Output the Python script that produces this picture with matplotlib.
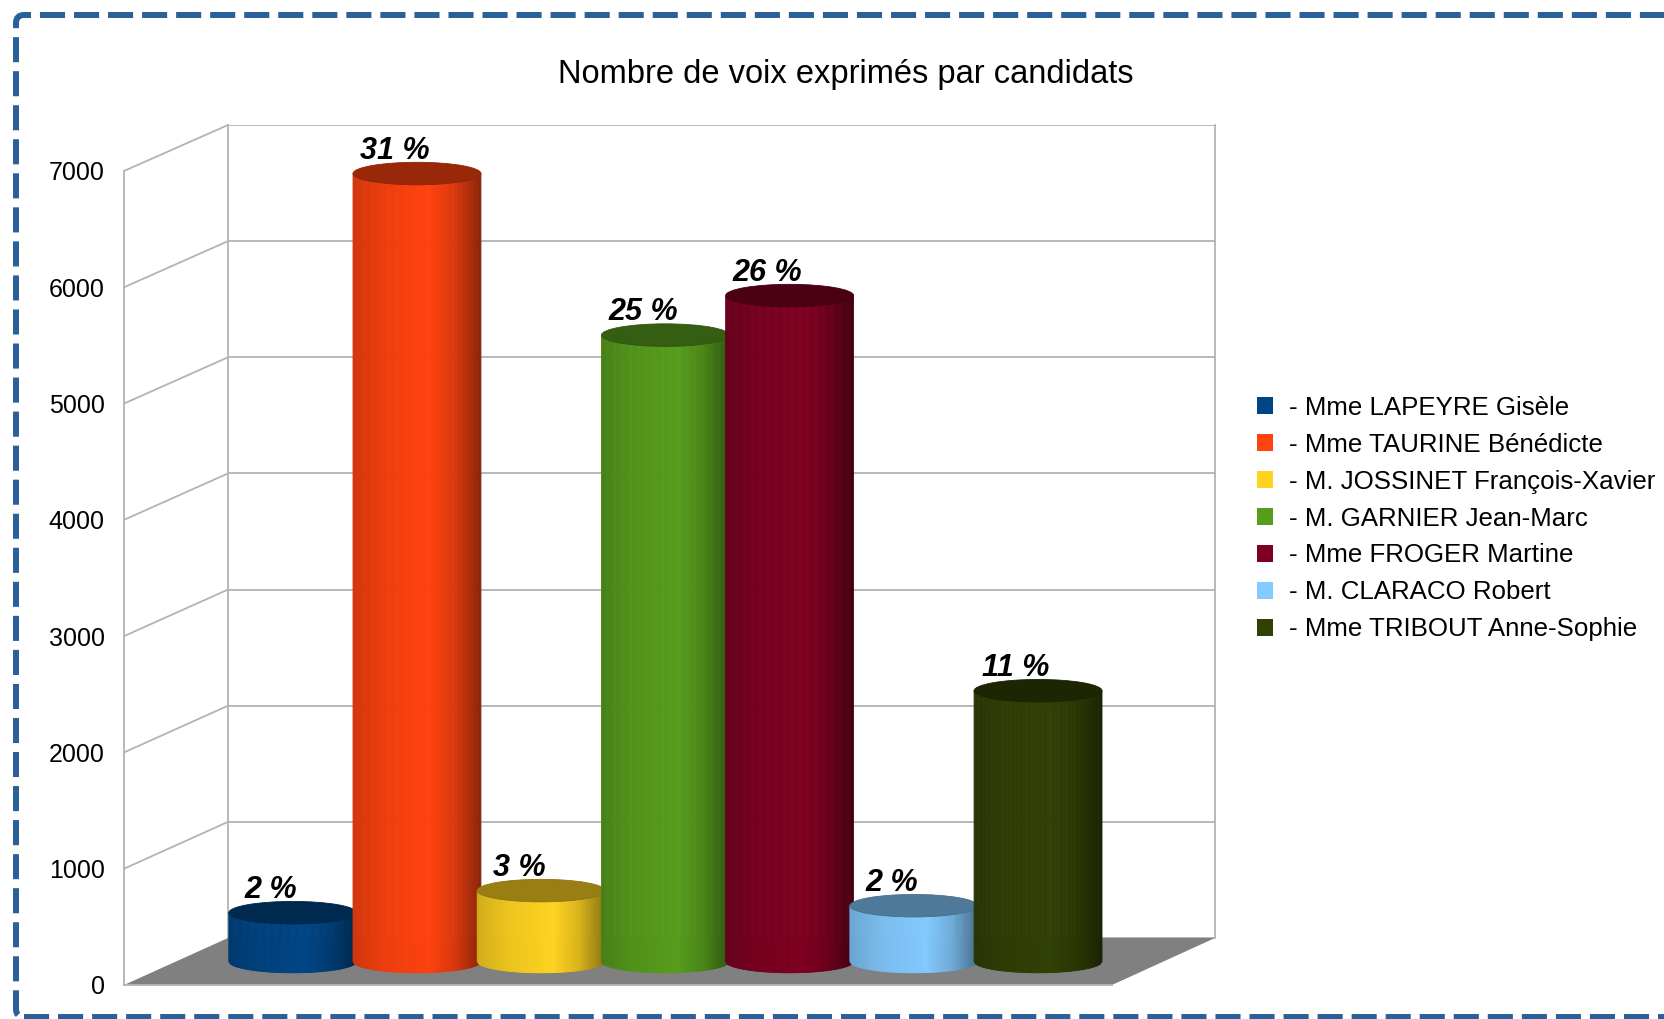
import numpy as np
import matplotlib
matplotlib.use("Agg")
import matplotlib.pyplot as plt
from matplotlib.patches import Ellipse, Polygon, FancyBboxPatch, Patch, ConnectionPatch
from matplotlib.collections import PolyCollection
from matplotlib.colors import to_rgb
from matplotlib.transforms import IdentityTransform

# données
candidats = ["- Mme LAPEYRE Gisèle", "- Mme TAURINE Bénédicte",
             "- M. JOSSINET François-Xavier", "- M. GARNIER Jean-Marc",
             "- Mme FROGER Martine", "- M. CLARACO Robert",
             "- Mme TRIBOUT Anne-Sophie"]
voix = [420, 6780, 610, 5390, 5730, 480, 2330]
pourcentages = ["2 %", "31 %", "3 %", "25 %", "26 %", "2 %", "11 %"]
couleurs = ["#004586", "#ff420e", "#ffd320", "#579d1c", "#7e0021", "#83caff", "#314004"]
graduations = [0, 1000, 2000, 3000, 4000, 5000, 6000, 7000]
titre = "Nombre de voix exprimés par candidats"

plt.rcParams['font.family'] = ['Liberation Sans', 'DejaVu Sans']

W, H = 1665, 1019
fig = plt.figure(figsize=(W / 100, H / 100), dpi=100)


def px_box(left, top, right, bottom):
    return [left / W, 1 - bottom / H, (right - left) / W, (bottom - top) / H]


xlim = (-0.94, 7.01)
ylim = (0, 7000)
grid_col = "#b3b3b3"

# trois plans : fond, avant, milieu (pour les cylindres)
ax_back = fig.add_axes(px_box(228, 125, 1215, 938))
ax_front = fig.add_axes(px_box(124, 171, 1112, 985))
ax_mid = fig.add_axes(px_box(176, 148, 1163.5, 961.5))
for ax in (ax_back, ax_front, ax_mid):
    ax.set_xlim(xlim)
    ax.set_ylim(ylim)
    ax.patch.set_visible(False)
    for s in ax.spines.values():
        s.set_visible(False)
    ax.set_xticks([])

# mur du fond
ax_back.set_yticks(graduations)
ax_back.tick_params(axis='y', length=0, labelleft=False)
ax_back.grid(axis='y', color=grid_col, lw=1.3)
for side in ('left', 'right'):
    ax_back.spines[side].set_visible(True)
    ax_back.spines[side].set_color(grid_col)
    ax_back.spines[side].set_linewidth(1.3)

# axe avant
ax_front.set_yticks(graduations)
ax_front.set_yticklabels([str(g) for g in graduations], fontsize=18)
ax_front.tick_params(axis='y', length=0, pad=14)
for side in ('left', 'bottom'):
    ax_front.spines[side].set_visible(True)
    ax_front.spines[side].set_color(grid_col)
    ax_front.spines[side].set_linewidth(1.3)
ax_mid.set_yticks([])

# mur gauche : diagonales
for g in graduations[1:]:
    con = ConnectionPatch(xyA=(xlim[0], g), coordsA=ax_front.transData,
                          xyB=(xlim[0], g), coordsB=ax_back.transData,
                          color=grid_col, lw=1.3)
    fig.add_artist(con)

# sol
front_pts = ax_front.transData.transform([(xlim[0], 0), (xlim[1], 0)])
back_pts = ax_back.transData.transform([(xlim[1], 0), (xlim[0], 0)])
floor = ax_back.transData.inverted().transform(np.vstack([front_pts, back_pts]))
ax_back.add_patch(Polygon(floor, closed=True, fc="#808080", ec="none",
                          clip_on=False, zorder=3))


def shade(u):
    return np.interp(u, [-1, -0.5, 0.2, 0.6, 1], [0.82, 0.93, 1.0, 0.85, 0.55])


w = 1.03
ry = 97
for i, (v, col) in enumerate(zip(voix, couleurs)):
    base = np.array(to_rgb(col))
    xs = np.linspace(i - w / 2, i + w / 2, 81)
    quads, cols = [], []
    for xa, xb in zip(xs[:-1], xs[1:]):
        ua, ub = (xa - i) / (w / 2), (xb - i) / (w / 2)
        ya = -ry * np.sqrt(max(0, 1 - ua ** 2))
        yb = -ry * np.sqrt(max(0, 1 - ub ** 2))
        quads.append([(xa, ya), (xb, yb), (xb, v), (xa, v)])
        cols.append(np.clip(base * shade((ua + ub) / 2), 0, 1))
    ax_mid.add_collection(PolyCollection(quads, facecolors=cols, edgecolors=cols,
                                         linewidths=0.6, zorder=3 + 2 * i,
                                         clip_on=False))
    ax_mid.add_patch(Ellipse((i, v), w, 2 * ry, fc=base * 0.6, ec=base * 0.55,
                             lw=0.6, zorder=4 + 2 * i, clip_on=False))
    ax_mid.annotate(pourcentages[i], xy=(i, v), xytext=(-22, 23),
                    textcoords='offset pixels', ha='center', va='center',
                    fontsize=22, fontweight='bold', fontstyle='italic', zorder=30)

# titre
fig.text(846 / W, 1 - 74 / H, titre, ha='center', va='center', fontsize=23.5)

# légende
handles = [Patch(fc=c, ec='none') for c in couleurs]
fig.legend(handles, candidats, loc='center left',
           bbox_to_anchor=(1257 / W, 1 - 518.5 / H), frameon=False, fontsize=18.6,
           handlelength=0.62, handleheight=0.62, handletextpad=0.62,
           labelspacing=0.5, borderpad=0, borderaxespad=0)

# cadre en tirets
cadre = FancyBboxPatch((16, 2), 1700, 1002, boxstyle="round,pad=0,rounding_size=8",
                       transform=IdentityTransform(), fill=False, ec="#2a6099",
                       lw=4.3, linestyle=(0, (4.2, 1.5)), capstyle='butt')
fig.add_artist(cadre)

fig.savefig("out.png", dpi=100)
